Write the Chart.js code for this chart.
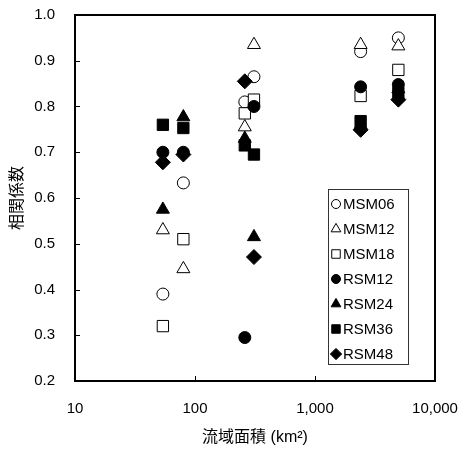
<!DOCTYPE html>
<html>
<head>
<meta charset="utf-8">
<script src="https://cdn.jsdelivr.net/npm/chart.js@4/dist/chart.umd.min.js"></script>
<style>
  html, body { margin: 0; padding: 0; background: #fff; }
  #wrap { width: 459px; height: 450px; }
</style>
</head>
<body>
<div id="wrap"><canvas id="chart" width="459" height="450"></canvas></div>
<script>
// basin areas (km2), one per basin
const areas = [54, 80, 260, 310, 2400, 4950];

// correlation coefficient per model, same basin order as areas
const msm06 = [0.39, 0.633, 0.81, 0.865, 0.92, 0.95];
const msm12 = [0.53, 0.445, 0.755, 0.935, 0.935, 0.932];
const msm18 = [0.32, 0.51, 0.785, 0.815, 0.823, 0.88];
const rsm12 = [0.70, 0.70, 0.295, 0.80, 0.843, 0.848];
const rsm24 = [0.575, 0.777, 0.73, 0.515, 0.76, 0.838];
const rsm36 = [0.76, 0.753, 0.715, 0.695, 0.768, 0.83];
const rsm48 = [0.678, 0.695, 0.855, 0.471, 0.749, 0.815];

const seriesNames = ['MSM06', 'MSM12', 'MSM18', 'RSM12', 'RSM24', 'RSM36', 'RSM48'];
const xTicks = [10, 100, 1000, 10000];
const yTicks = [0.2, 0.3, 0.4, 0.5, 0.6, 0.7, 0.8, 0.9, 1.0];

const latin = "'Liberation Sans', Arial, sans-serif";
const cjk = "'Liberation Sans', 'Noto Sans CJK JP', sans-serif";

// marker look for each series
const styles = [
  { shape: 'circle',   r: 6,   fill: '#fff' },
  { shape: 'triangle', r: 7.5, fill: '#fff' },
  { shape: 'rect',     r: 8,   fill: '#fff' },
  { shape: 'circle',   r: 6,   fill: '#000' },
  { shape: 'triangle', r: 7.5, fill: '#000' },
  { shape: 'rect',     r: 8,   fill: '#000' },
  { shape: 'rectRot',  r: 7.5, fill: '#000' }
];
const allValues = [msm06, msm12, msm18, rsm12, rsm24, rsm36, rsm48];

const datasets = allValues.map((vals, i) => ({
  label: seriesNames[i],
  data: areas.map((a, j) => ({ x: a, y: vals[j] })),
  pointStyle: styles[i].shape,
  pointRadius: styles[i].r,
  pointHoverRadius: styles[i].r,
  backgroundColor: styles[i].fill,
  borderColor: '#000',
  borderWidth: 1,
  showLine: false,
  order: allValues.length - i   // later series drawn on top
}));

// frame plus short inward tick marks
const framePlugin = {
  id: 'frame',
  beforeDatasetsDraw(chart) {
    const { ctx, chartArea: a, scales } = chart;
    ctx.save();
    ctx.strokeStyle = '#000';
    ctx.lineWidth = 1;
    ctx.beginPath();
    scales.y.ticks.forEach(t => {
      const py = Math.round(scales.y.getPixelForValue(t.value)) + 0.5;
      ctx.moveTo(a.left, py); ctx.lineTo(a.left + 5, py);
    });
    scales.x.ticks.forEach(t => {
      const px = Math.round(scales.x.getPixelForValue(t.value)) + 0.5;
      ctx.moveTo(px, a.bottom); ctx.lineTo(px, a.bottom - 5);
    });
    ctx.stroke();
    ctx.lineWidth = 2;
    ctx.strokeRect(a.left, a.top, a.right - a.left, a.bottom - a.top);
    ctx.restore();
  }
};

// boxed legend inside the plot, lower right
const boxLegend = {
  id: 'boxLegend',
  afterDatasetsDraw(chart) {
    const { ctx, chartArea: a } = chart;
    const w = 80, row = 25, h = row * seriesNames.length;
    const left = a.right - 27 - w;
    const top = a.bottom - 17 - h;
    ctx.save();
    ctx.fillStyle = '#fff';
    ctx.fillRect(left, top, w, h);
    ctx.strokeStyle = '#333';
    ctx.lineWidth = 1;
    ctx.strokeRect(left + 0.5, top + 0.5, w, h);
    ctx.font = '15px ' + latin;
    ctx.textBaseline = 'middle';
    seriesNames.forEach((name, i) => {
      const cy = top + 15 + i * row;
      const s = styles[i];
      ctx.fillStyle = s.fill;
      ctx.strokeStyle = '#000';
      ctx.lineWidth = 1;
      Chart.helpers.drawPoint(ctx, { pointStyle: s.shape, radius: s.r * 0.75, rotation: 0, borderWidth: 1 }, left + 8, cy);
      ctx.fillStyle = '#000';
      ctx.fillText(name, left + 15, cy + 1);
    });
    ctx.restore();
  }
};

new Chart(document.getElementById('chart'), {
  type: 'scatter',
  data: { datasets },
  options: {
    responsive: false,
    animation: false,
    devicePixelRatio: 1,
    layout: { padding: { top: 15, right: 24, left: 0, bottom: 0 } },
    plugins: {
      legend: { display: false },
      tooltip: { enabled: false }
    },
    scales: {
      x: {
        type: 'logarithmic',
        min: 10,
        max: 10000,
        afterBuildTicks: s => { s.ticks = xTicks.map(v => ({ value: v })); },
        afterFit: s => { s.height = 69; s.paddingLeft = 0; s.paddingRight = 0; },
        grid: { display: false, drawTicks: false },
        border: { display: false },
        ticks: {
          padding: 19,
          color: '#000',
          font: { family: latin, size: 15 },
          maxRotation: 0,
          callback: v => Number(v).toLocaleString('en-US')
        },
        title: {
          display: true,
          text: '流域面積 (km²)',
          color: '#000',
          font: { family: cjk, size: 16 },
          padding: { top: 0, bottom: 3 }
        }
      },
      y: {
        min: 0.2,
        max: 1.0,
        afterBuildTicks: s => { s.ticks = yTicks.map(v => ({ value: v })); },
        afterFit: s => { s.width = 75; s.paddingTop = 0; s.paddingBottom = 0; },
        grid: { display: false, drawTicks: false },
        border: { display: false },
        ticks: {
          padding: 20,
          color: '#000',
          font: { family: latin, size: 15 },
          callback: v => Number(v).toFixed(1)
        },
        title: {
          display: true,
          text: '相関係数',
          color: '#000',
          font: { family: cjk, size: 16 },
          padding: { top: 8, bottom: 0 }
        }
      }
    }
  },
  plugins: [framePlugin, boxLegend]
});
</script>
</body>
</html>
